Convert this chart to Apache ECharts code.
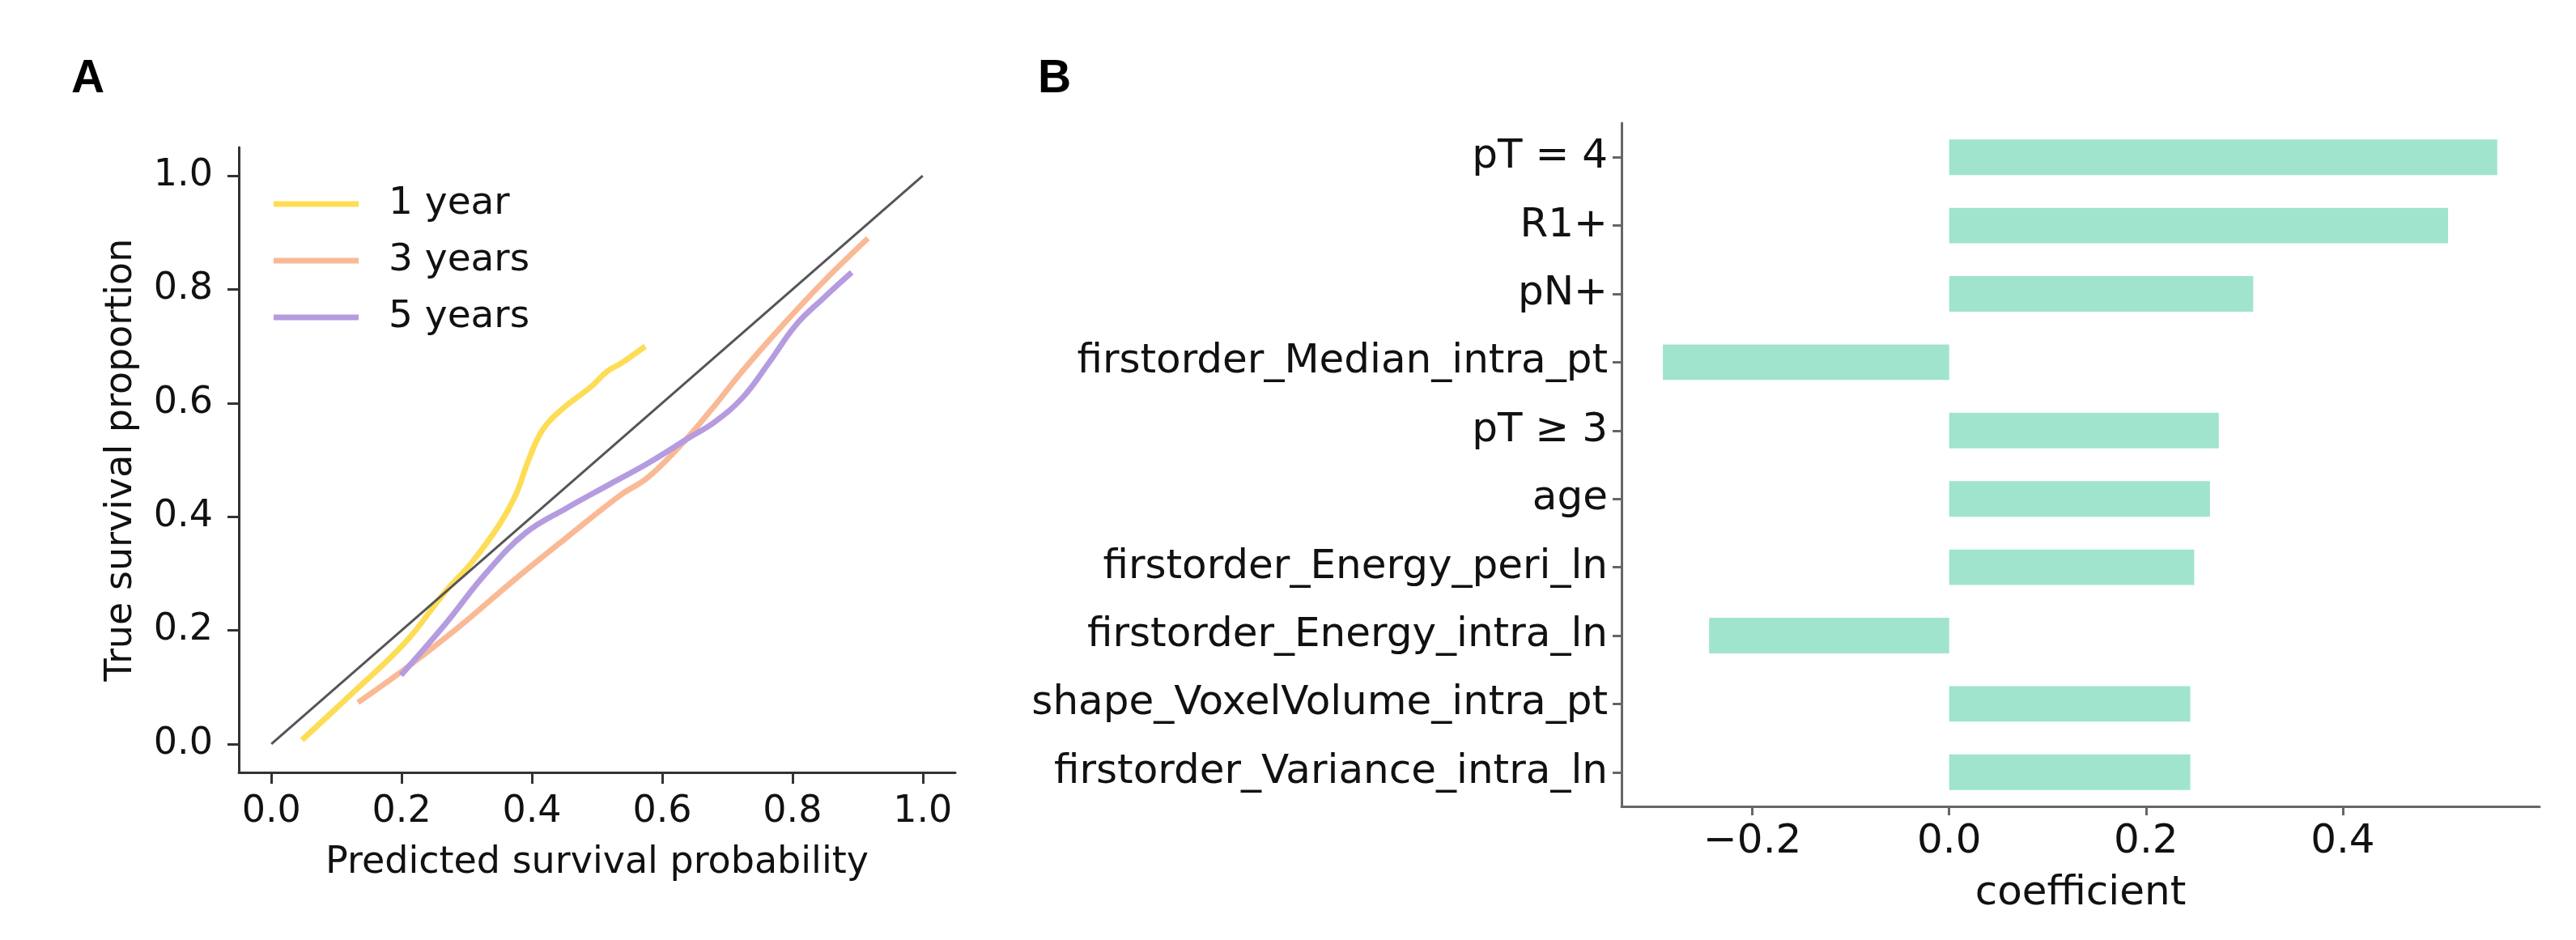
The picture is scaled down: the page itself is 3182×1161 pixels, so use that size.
<!DOCTYPE html>
<html>
<head>
<meta charset="utf-8">
<title>Calibration and coefficients</title>
<script src="https://cdn.jsdelivr.net/npm/echarts@6/dist/echarts.min.js"></script>
<style>
    html, body { margin: 0; padding: 0; background: #fff; }
    #chart { width: 3182px; height: 1161px; }
</style>
</head>
<body>
<div id="chart"></div>
<script>
// --- panel A: calibration curves [predicted, true] ---
const seriesNames = ["1 year", "3 years", "5 years"];
const oneYear = [
    [0.047, 0.007], [0.122, 0.087], [0.205, 0.178], [0.267, 0.268], [0.308, 0.320],
    [0.350, 0.386], [0.375, 0.438], [0.395, 0.500], [0.416, 0.552], [0.445, 0.588],
    [0.490, 0.628], [0.516, 0.656], [0.537, 0.670], [0.574, 0.700]
];
const threeYears = [
    [0.133, 0.073], [0.205, 0.132], [0.288, 0.206], [0.370, 0.286], [0.453, 0.363],
    [0.536, 0.438], [0.578, 0.469], [0.627, 0.524], [0.673, 0.585], [0.723, 0.656],
    [0.785, 0.737], [0.847, 0.813], [0.916, 0.890]
];
const fiveYears = [
    [0.199, 0.121], [0.267, 0.211], [0.329, 0.300], [0.391, 0.372], [0.453, 0.415],
    [0.516, 0.455], [0.578, 0.494], [0.640, 0.538], [0.681, 0.567], [0.723, 0.609],
    [0.764, 0.671], [0.805, 0.737], [0.847, 0.784], [0.891, 0.830]
];
const diagonal = [[0, 0], [1, 1]];
const ticksA = [0, 0.2, 0.4, 0.6, 0.8, 1.0];

// --- panel B: coefficients ---
const features = [
    "pT = 4", "R1+", "pN+", "firstorder_Median_intra_pt", "pT \u2265 3", "age",
    "firstorder_Energy_peri_ln", "firstorder_Energy_intra_ln",
    "shape_VoxelVolume_intra_pt", "firstorder_Variance_intra_ln"
];
const coefficients = [0.557, 0.507, 0.309, -0.291, 0.274, 0.265, 0.249, -0.244, 0.245, 0.245];
const ticksB = [-0.2, 0, 0.2, 0.4];

const font = "DejaVu Sans";
const lineColors = ["#fddd55", "#fab995", "#b59be0"];

(function () {
    let chart = echarts.init(document.getElementById("chart"));

    const fmt = v => (v < 0 ? "\u2212" : "") + Math.abs(v).toFixed(1);

    let option = {
        animation: false,
        textStyle: { fontFamily: font },
        graphic: [
            { type: "text", left: 88, top: 70, style: { text: "A", font: "bold 57px 'Liberation Sans'", fill: "#000" } },
            { type: "text", left: 1282, top: 70, style: { text: "B", font: "bold 57px 'Liberation Sans'", fill: "#000" } }
        ],
        legend: {
            data: seriesNames,
            orient: "vertical",
            left: 333,
            top: 223,
            icon: "rect",
            itemWidth: 105,
            itemHeight: 7,
            itemGap: 22,
            textStyle: { fontFamily: font, fontSize: 47, lineHeight: 48, color: "#111", padding: [0, 0, 0, 32] }
        },
        grid: [
            { left: 295, top: 182, width: 885, height: 772 },
            { left: 2003, top: 152, width: 1134, height: 844 }
        ],
        xAxis: [
            {
                gridIndex: 0, type: "value", min: -0.05, max: 1.05,
                name: "Predicted survival probability", nameLocation: "middle", nameGap: 89,
                nameTextStyle: { fontFamily: font, fontSize: 46, color: "#111" },
                axisLine: { show: true, onZero: false, lineStyle: { color: "#333", width: 3 } },
                axisTick: { show: true, length: 14, lineStyle: { color: "#333", width: 3 }, customValues: ticksA },
                axisLabel: { fontSize: 46, color: "#111", margin: 26, customValues: ticksA, formatter: fmt },
                splitLine: { show: false }
            },
            {
                gridIndex: 1, type: "value", min: -0.333, max: 0.6,
                name: "coefficient", nameLocation: "middle", nameGap: 83,
                nameTextStyle: { fontFamily: font, fontSize: 50, color: "#111" },
                axisLine: { show: true, onZero: false, lineStyle: { color: "#666", width: 3 } },
                axisTick: { show: true, length: 11, lineStyle: { color: "#666", width: 3 }, customValues: ticksB },
                axisLabel: { fontSize: 50, color: "#111", margin: 19, customValues: ticksB, formatter: fmt },
                splitLine: { show: false }
            }
        ],
        yAxis: [
            {
                gridIndex: 0, type: "value", min: -0.05, max: 1.05,
                name: "True survival proportion", nameLocation: "middle", nameGap: 122,
                nameTextStyle: { fontFamily: font, fontSize: 46, color: "#111" },
                axisLine: { show: true, onZero: false, lineStyle: { color: "#333", width: 3 } },
                axisTick: { show: true, length: 14, lineStyle: { color: "#333", width: 3 }, customValues: ticksA },
                axisLabel: { fontSize: 46, color: "#111", margin: 32, customValues: ticksA, formatter: fmt },
                splitLine: { show: false }
            },
            {
                gridIndex: 1, type: "category", data: features, inverse: true,
                axisLine: { show: true, onZero: false, lineStyle: { color: "#666", width: 3 } },
                axisTick: { show: true, alignWithLabel: true, length: 11, lineStyle: { color: "#666", width: 3 } },
                axisLabel: { fontSize: 50, color: "#111", margin: 17 },
                splitLine: { show: false }
            }
        ],
        series: [
            {
                name: seriesNames[0], type: "line", xAxisIndex: 0, yAxisIndex: 0,
                data: oneYear, smooth: 0.4, showSymbol: false, color: lineColors[0],
                lineStyle: { width: 7, color: lineColors[0] }
            },
            {
                name: seriesNames[1], type: "line", xAxisIndex: 0, yAxisIndex: 0,
                data: threeYears, smooth: 0.4, showSymbol: false, color: lineColors[1],
                lineStyle: { width: 7, color: lineColors[1] }
            },
            {
                name: seriesNames[2], type: "line", xAxisIndex: 0, yAxisIndex: 0,
                data: fiveYears, smooth: 0.4, showSymbol: false, color: lineColors[2],
                lineStyle: { width: 7, color: lineColors[2] }
            },
            {
                name: "diagonal", type: "line", xAxisIndex: 0, yAxisIndex: 0,
                data: diagonal, showSymbol: false, z: 5,
                lineStyle: { width: 3, color: "#555" }
            },
            {
                name: "coefficient", type: "bar", xAxisIndex: 1, yAxisIndex: 1,
                data: coefficients, barWidth: "52%",
                itemStyle: { color: "#a0e4cd" }
            }
        ]
    };

    chart.setOption(option);
    window.addEventListener("resize", () => chart.resize());
})();
</script>
</body>
</html>
